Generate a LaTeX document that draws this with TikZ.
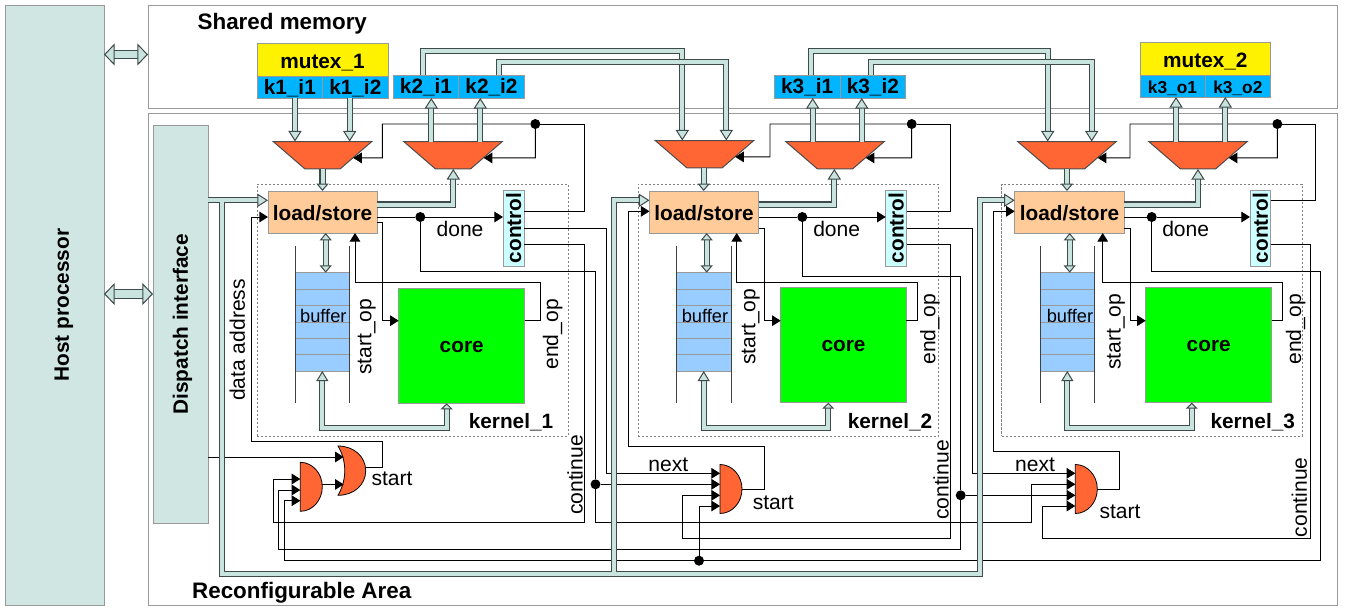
\documentclass[tikz,border=0pt]{standalone}
\usepackage{fontspec}
\usepackage{graphicx}
\setmainfont{Liberation Sans}
\usetikzlibrary{arrows.meta,shapes.geometric}
\definecolor{busfill}{HTML}{C9E3DF}
\definecolor{busline}{HTML}{3F4A4A}
\definecolor{panel}{HTML}{CFE6E3}
\definecolor{frameline}{HTML}{999999}
\definecolor{keyblue}{HTML}{00B4FF}
\definecolor{muxred}{HTML}{FF6633}
\definecolor{lsorange}{HTML}{FFCC99}
\definecolor{ctrlcyan}{HTML}{CCFFFF}
\definecolor{bufblue}{HTML}{99CCFF}
\newcommand{\rn}[7]{\node[#1,minimum width={(#5-#3)*.75pt},minimum height={(#6-#4)*.75pt}] (#2) at ({(#3+#5)/2},{(#4+#6)/2}) {#7};}
\newcommand{\txtB}{\fontsize{15.6}{18}\bfseries\selectfont}
\newcommand{\txtR}{\fontsize{15.8}{18}\selectfont}
\newcommand{\andgate}[2]{\draw[gatestyle] (#1,#2) ++(0,-24.5) .. controls +(12.15,0) and +(0,-13.5) .. ++(22,24.5) .. controls +(0,13.5) and +(12.15,0) .. ++(-22,24.5) -- cycle;}
\tikzset{
  boxbase/.style={rectangle,inner sep=0pt,outer sep=0pt,align=center,line width=.75pt},
  frame/.style={boxbase,draw=frameline},
  panelbox/.style={boxbase,draw=frameline,fill=panel,font=\txtB},
  mutexbox/.style={boxbase,draw=frameline,fill=yellow,font=\txtB,text height=12.5pt,text depth=0pt},
  keybox/.style={boxbase,draw=frameline,fill=keyblue,font=\txtB,text height=11pt,text depth=0pt},
  keysmall/.style={boxbase,draw=frameline,fill=keyblue,font=\fontsize{13}{15}\bfseries\selectfont,text height=10.6pt,text depth=0pt},
  lsbox/.style={boxbase,draw=frameline,fill=lsorange,font=\txtB,text height=12pt,text depth=0pt},
  ctrlbox/.style={boxbase,draw=frameline,fill=ctrlcyan,font=\txtB},
  bufbox/.style={boxbase,fill=bufblue},
  corebox/.style={boxbase,draw=frameline,fill=green,font=\txtB,text height=10.6pt,text depth=0pt},
  kernelbox/.style={boxbase,draw=gray,dash pattern=on 1.6pt off 1.4pt,line width=.5pt},
  mux/.style={trapezium,shape border rotate=180,trapezium left angle=47.7,trapezium right angle=47.7,trapezium stretches=true,inner sep=1pt,outer sep=0pt,draw=black!70,line width=.75pt,fill=muxred,minimum width=73.9pt,minimum height=20.6pt},
  dot/.style={circle,fill=black,inner sep=0pt,outer sep=0pt,minimum size=7.5pt},
  gatestyle/.style={draw=black,line width=.6pt,fill=muxred},
  sig/.style={draw=black,line width=.7pt},
  sigtip/.style={sig,-{Triangle[length=6.5pt,width=8pt,fill=black]}},
  bus/.style={draw=busline,line width=.85pt,double=busfill,double distance=3pt},
  busbig/.style={bus,-{Triangle[open,fill=busfill,length=8pt,width=10pt,line width=.75pt]}},
  bussmall/.style={bus,-{Triangle[open,fill=busfill,length=5.5pt,width=9pt,line width=.75pt]}},
  busboth/.style={bus,{Triangle[open,fill=busfill,length=5.5pt,width=9pt,line width=.75pt]}-{Triangle[open,fill=busfill,length=5.5pt,width=9pt,line width=.75pt]}},
  busloop/.style={bus,{Triangle[open,fill=busfill,length=7.5pt,width=9pt,line width=.75pt]}-{Triangle[open,fill=busfill,length=4.5pt,width=9pt,line width=.75pt]}},
  hostbus/.style={draw=busline,line width=.75pt,double=busfill,double distance=5.5pt,{Triangle[open,fill=busfill,length=8pt,width=16.5pt,line width=.75pt]}-{Triangle[open,fill=busfill,length=8pt,width=16.5pt,line width=.75pt]}},
  lblB/.style={inner sep=0pt,font=\txtB},
  lblH/.style={inner sep=0pt,font=\fontsize{16.8}{20}\bfseries\selectfont},
  lblR/.style={inner sep=0pt,font=\txtR},
  lblS/.style={inner sep=0pt,font=\fontsize{13.7}{16}\selectfont},
}
\begin{document}
\begin{tikzpicture}[x=.75pt,y=-.75pt]
\useasboundingbox (0,0) rectangle (1345,608);
\fill[white] (0,0) rectangle (1345,608);

% large panels
\rn{panelbox}{host}{5}{5}{104}{605}{\kern14pt\rotatebox{90}{Host processor}}
\rn{frame}{shared}{148}{5}{1337}{108.5}{}
\rn{frame}{reconf}{148}{113.5}{1337}{605}{}
\rn{panelbox}{disp}{153}{125.5}{208}{523}{\kern3pt\rotatebox{90}{Dispatch interface}}
\node[lblH] (tshared) at (282.3,24) {Shared memory};
\node[lblH] (treconf) at (301.7,593) {Reconfigurable Area};

% kernel outlines
\rn{kernelbox}{ker1}{257}{184}{568}{436}{}
\rn{kernelbox}{ker2}{638}{184}{938.7}{436}{}
\rn{kernelbox}{ker3}{1001.7}{184}{1302}{436}{}
\node[lblB] (tk1) at (511,422) {kernel\_1};
\node[lblB] (tk2) at (890,422) {kernel\_2};
\node[lblB] (tk3) at (1252.7,422) {kernel\_3};

% shared memory blocks
\rn{mutexbox}{mtx1}{257}{43.5}{388}{76}{mutex\_1}
\rn{keybox}{k1i1}{257}{76}{322.6}{98}{k1\_i1}
\rn{keybox}{k1i2}{322.6}{76}{388}{98}{k1\_i2}
\rn{keybox}{k2i1}{393.3}{75}{458.7}{98}{k2\_i1}
\rn{keybox}{k2i2}{458.7}{75}{524.3}{98}{k2\_i2}
\rn{keybox}{k3i1}{774.3}{75}{840}{98}{k3\_i1}
\rn{keybox}{k3i2}{840}{75}{905.7}{98}{k3\_i2}
\rn{mutexbox}{mtx2}{1140}{42.5}{1270.7}{75}{mutex\_2}
\rn{keysmall}{k3o1}{1140}{75}{1205}{97}{k3\_o1}
\rn{keysmall}{k3o2}{1205}{75}{1270.7}{97}{k3\_o2}

% multiplexers
\node[mux] (m1a) at (322.5,155.25) {};
\node[mux] (m1b) at (453,155.25) {};
\node[mux] (m2a) at (704.5,154.25) {};
\node[mux] (m2b) at (835,155.25) {};
\node[mux] (m3a) at (1067,155.25) {};
\node[mux] (m3b) at (1198,155.25) {};

% kernel contents
\rn{lsbox}{ls1}{268}{191}{377}{233}{load/store}
\rn{lsbox}{ls2}{649.5}{191}{758.5}{233}{load/store}
\rn{lsbox}{ls3}{1014.7}{191}{1124.3}{233}{load/store}
\rn{ctrlbox}{ctrl1}{503}{190}{524.3}{266}{\rotatebox{90}{control}}
\rn{ctrlbox}{ctrl2}{885.7}{190}{906.7}{266}{\rotatebox{90}{control}}
\rn{ctrlbox}{ctrl3}{1250}{190}{1270.7}{266}{\rotatebox{90}{control}}
\rn{corebox}{core1}{398.7}{288}{524.7}{403.3}{core}
\rn{corebox}{core2}{780.7}{287}{906.3}{402.7}{core}
\rn{corebox}{core3}{1145.7}{287}{1271.7}{402.7}{core}
\rn{bufbox}{buf1}{295.7}{272.7}{349.3}{371}{}
\rn{bufbox}{buf2}{676.7}{272.7}{731}{371}{}
\rn{bufbox}{buf3}{1040}{272.7}{1094.7}{371}{}
\foreach \a/\b in {295.7/349.3,676.7/731,1040/1094.7}{
  \foreach \yy in {272.7,289,305.3,322,338.3,354.7,371}
    \draw[frameline,line width=.75pt] (\a,\yy) -- (\b,\yy);
  \draw[black!75,line width=.75pt] (\a,245.7) -- (\a,403.3);
  \draw[black!75,line width=.75pt] (\b,245.7) -- (\b,403.3);
}
\node[lblS] (tb1) at (323.3,315.7) {buffer};
\node[lblS] (tb2) at (705,315.7) {buffer};
\node[lblS] (tb3) at (1070,315.7) {buffer};

% gates
\andgate{300.3}{486.8}
\andgate{720}{489}
\andgate{1075.3}{489}
\draw[gatestyle] (338,446) .. controls +(16,0) and +(0,-14) .. (365.7,470.7) .. controls +(0,14) and +(16,0) .. (338,495.3) .. controls (347,480) and (347,461) .. cycle;
\foreach \n/\p in {g1i1/{300.3,479},g1i2/{300.3,490},g1i3/{300.3,500.7},g1o/{322.3,484.4},
  ori1/{343.7,457},ori2/{343.7,484.4},oro/{365.5,467.7},
  g2i1/{720,473.3},g2i2/{720,484.3},g2i3/{720,495.3},g2i4/{720,506},g2o/{741.7,489.7},
  g3i1/{1075.3,473.3},g3i2/{1075.3,484.3},g3i3/{1075.3,495.3},g3i4/{1075.3,506},g3o/{1097.3,489.7}}
  {\coordinate (\n) at (\p);}

% junction dots
\node[dot] (sel1) at (535.3,124) {};
\node[dot] (sel2) at (911.7,124) {};
\node[dot] (sel3) at (1277.3,124) {};
\node[dot] (done1) at (420.3,217) {};
\node[dot] (done2) at (802.3,217) {};
\node[dot] (done3) at (1151.7,217) {};
\node[dot] (j1) at (595.5,484.3) {};
\node[dot] (j2) at (960.7,495.3) {};
\node[dot] (j3) at (699,560.7) {};

% labels
\node[lblR] (td1) at (460,228.7) {done};
\node[lblR] (td2) at (836.7,228.7) {done};
\node[lblR] (td3) at (1185.7,228.7) {done};
\node[lblR] (tst1) at (392,479) {start};
\node[lblR] (tst2) at (773.3,502.7) {start};
\node[lblR] (tst3) at (1120,511.7) {start};
\node[lblR] (tn2) at (668.3,464.5) {next};
\node[lblR] (tn3) at (1035,464.5) {next};
\node[lblR] (tc1) at (575,475) {\rotatebox{90}{continue}};
\node[lblR] (tc2) at (941,480) {\rotatebox{90}{continue}};
\node[lblR] (tc3) at (1299.3,497.3) {\rotatebox{90}{continue}};
\node[lblR] (tso1) at (366.7,336.7) {\rotatebox{90}{start\_op}};
\node[lblR] (tso2) at (750.7,326.7) {\rotatebox{90}{start\_op}};
\node[lblR] (tso3) at (1116,331.7) {\rotatebox{90}{start\_op}};
\node[lblR] (teo1) at (552.7,334.3) {\rotatebox{90}{end\_op}};
\node[lblR] (teo2) at (930,329.3) {\rotatebox{90}{end\_op}};
\node[lblR] (teo3) at (1295.7,329.3) {\rotatebox{90}{end\_op}};
\node[lblR] (tda) at (237.3,340) {\rotatebox{90}{data address}};

% --- control signals, kernel 1
\draw[sig] (ctrl1.east |- 0,211.3) -- (584.3,211.3) -- (584.3,124) -- (sel1);
\draw[sigtip] (sel1) -- (382.3,124) -- (382.3,157.9) -- ([shift={(-2pt,-2pt)}]m1a.east);
\draw[sigtip] (sel1) -- (535.3,157.9) -- ([shift={(-2pt,-2pt)}]m1b.east);
\draw[sig] (ls1.east |- done1) -- (done1);
\draw[sigtip] (done1) -- (ctrl1.west |- done1);
\draw[sig] (done1) -- (420.3,271.7) -- (595.5,271.7) -- (j1);
\draw[sigtip] (j1) -- (595.5,522.3) -- (1031.7,522.3) -- (1031.7,484.3) -- (g3i2);
\draw[sigtip] (j1) -- (g2i2);
\draw[sigtip] (ctrl1.east |- 0,228) -- (606.3,228) -- (606.3,473.3) -- (g2i1);
\draw[sigtip] (ctrl1.east |- 0,244.3) -- (584.3,244.3) -- (584.3,522.3) -- (273.3,522.3) -- (273.3,479) -- (g1i1);
\draw[sigtip] (oro) -- (382.3,467.7) -- (382.3,441) -- (251.7,441) -- (251.7,217) -- (ls1.west |- done1);
\draw[sigtip] (g1o) -- (ori2);
\draw[sigtip] (disp.east |- ori1) -- (ori1);
\draw[sigtip] (ls1.east |- 0,222.7) -- (382.3,222.7) -- (382.3,320.7) -- (core1.west |- 0,320.7);
\draw[sigtip] (core1.east |- 0,320.7) -- (540.7,320.7) -- (540.7,282.7) -- (355,282.7) -- (ls1.south -| 355,0);

% --- control signals, kernel 2
\draw[sig] (ctrl2.east |- 0,211.3) -- (950,211.3) -- (950,124) -- (sel2);
\draw[sigtip] (sel2) -- (770,124) -- (770,156.9) -- ([shift={(-2pt,-2pt)}]m2a.east);
\draw[sigtip] (sel2) -- (911.7,157.9) -- ([shift={(-2pt,-2pt)}]m2b.east);
\draw[sig] (ls2.east |- done2) -- (done2);
\draw[sigtip] (done2) -- (ctrl2.west |- done2);
\draw[sig] (done2) -- (802.3,276.7) -- (960.7,276.7) -- (j2);
\draw[sigtip] (j2) -- (960.7,549.3) -- (278.7,549.3) -- (278.7,490) -- (g1i2);
\draw[sigtip] (j2) -- (g3i3);
\draw[sigtip] (ctrl2.east |- 0,228) -- (972,228) -- (972,473.3) -- (g3i1);
\draw[sigtip] (ctrl2.east |- 0,244.3) -- (950,244.3) -- (950,538.7) -- (682.3,538.7) -- (682.3,495.3) -- (g2i3);
\draw[sigtip] (g2o) -- (764.3,489.7) -- (764.3,446) -- (628.3,446) -- (628.3,211.3) -- (ls2.west |- 0,211.3);
\draw[sigtip] (ls2.east |- 0,228) -- (764,228) -- (764,320.7) -- (core2.west |- 0,320.7);
\draw[sigtip] (core2.east |- 0,320.7) -- (917.3,320.7) -- (917.3,282.7) -- (736.7,282.7) -- (ls2.south -| 736.7,0);

% --- control signals, kernel 3
\draw[sig] (ctrl3.east |- 0,200.7) -- (1315.3,200.7) -- (1315.3,124) -- (sel3);
\draw[sigtip] (sel3) -- (1130,124) -- (1130,157.9) -- ([shift={(-2pt,-2pt)}]m3a.east);
\draw[sigtip] (sel3) -- (1277.3,157.9) -- ([shift={(-2pt,-2pt)}]m3b.east);
\draw[sig] (ls3.east |- done3) -- (done3);
\draw[sigtip] (done3) -- (ctrl3.west |- done3);
\draw[sig] (done3) -- (1151.7,271.3) -- (1320.7,271.3) -- (1320.7,560.7) -- (j3);
\draw[sigtip] (j3) -- (284,560.7) -- (284,500.7) -- (g1i3);
\draw[sigtip] (j3) -- (699,506) -- (g2i4);
\draw[sigtip] (ctrl3.east |- 0,244.3) -- (1310,244.3) -- (1310,538.7) -- (1042.7,538.7) -- (1042.7,506) -- (g3i4);
\draw[sigtip] (g3o) -- (1119,489.7) -- (1119,451.7) -- (993.3,451.7) -- (993.3,211.3) -- (ls3.west |- 0,211.3);
\draw[sigtip] (ls3.east |- 0,228) -- (1130,228) -- (1130,320.7) -- (core3.west |- 0,320.7);
\draw[sigtip] (core3.east |- 0,320.7) -- (1282.7,320.7) -- (1282.7,282.7) -- (1102.7,282.7) -- (ls3.south -| 1102.7,0);

% --- buses
\draw[hostbus] (host.east |- 0,54.5) -- (shared.west |- 0,54.5);
\draw[hostbus] (host.east |- 0,294) -- (disp.west |- 0,294);

\draw[busbig] (k1i1.south -| 295,0) -- (m1a.north -| 295,0);
\draw[busbig] (k1i2.south -| 349.7,0) -- (m1a.north -| 349.7,0);
\draw[busbig] (m1b.north -| 431.3,0) -- (k2i1.south -| 431.3,0);
\draw[busbig] (m1b.north -| 480.3,0) -- (k2i2.south -| 480.3,0);
\draw[bussmall] (m1a.south -| ls1.north) -- (ls1.north);
\draw[busbig] (ls1.east |- 0,204.5) -- (453.3,204.5) -- (m1b.south -| 453.3,0);
\draw[busboth] (ls1.south -| 325.7,0) -- (buf1.north -| 325.7,0);
\draw[busloop] (buf1.south -| 322.3,0) -- (322.3,428.3) -- (446.7,428.3) -- (core1.south -| 446.7,0);

\draw[busbig] (k2i1.north -| 423.3,0) -- (423.3,50.7) -- (682.3,50.7) -- (m2a.north -| 682.3,0);
\draw[busbig] (k2i2.north -| 499.3,0) -- (499.3,61.7) -- (726.3,61.7) -- (m2a.north -| 726.3,0);
\draw[busbig] (m2b.north -| 812.7,0) -- (k3i1.south -| 812.7,0);
\draw[busbig] (m2b.north -| 861.7,0) -- (k3i2.south -| 861.7,0);
\draw[bussmall] (m2a.south -| 703.7,0) -- (ls2.north -| 703.7,0);
\draw[busbig] (ls2.east |- 0,204.5) -- (834.3,204.5) -- (m2b.south -| 834.3,0);
\draw[busboth] (ls2.south -| 706.7,0) -- (buf2.north -| 706.7,0);
\draw[busloop] (buf2.south -| 703.7,0) -- (703.7,428.3) -- (828.3,428.3) -- (core2.south -| 828.3,0);

\draw[busbig] (k3i1.north -| 810.7,0) -- (810.7,50.7) -- (1047.7,50.7) -- (m3a.north -| 1047.7,0);
\draw[busbig] (k3i2.north -| 870.7,0) -- (870.7,61.7) -- (1091.7,61.7) -- (m3a.north -| 1091.7,0);
\draw[busbig] (m3b.north -| 1176,0) -- (k3o1.south -| 1176,0);
\draw[busbig] (m3b.north -| 1225.3,0) -- (k3o2.south -| 1225.3,0);
\draw[bussmall] (m3a.south -| 1067,0) -- (ls3.north -| 1067,0);
\draw[busbig] (ls3.east |- 0,204.5) -- (1198,204.5) -- (m3b.south -| 1198,0);
\draw[busboth] (ls3.south -| 1069.7,0) -- (buf3.north -| 1069.7,0);
\draw[busloop] (buf3.south -| 1067.3,0) -- (1067.3,428.3) -- (1191.7,428.3) -- (core3.south -| 1191.7,0);

% dispatch data bus (one path, so its junctions stay open)
\draw[bus] (disp.east |- 0,200.3) -- (258,200.3)
  (221.7,200.3) -- (221.7,574.3) -- (980,574.3) -- (980,200.3) -- (1004.7,200.3)
  (614.3,574.3) -- (614.3,200.3) -- (639.5,200.3);
\draw[busbig] (258,200.3) -- (ls1.west |- 0,200.3);
\draw[busbig] (639.5,200.3) -- (ls2.west |- 0,200.3);
\draw[busbig] (1004.7,200.3) -- (ls3.west |- 0,200.3);
\end{tikzpicture}
\end{document}
